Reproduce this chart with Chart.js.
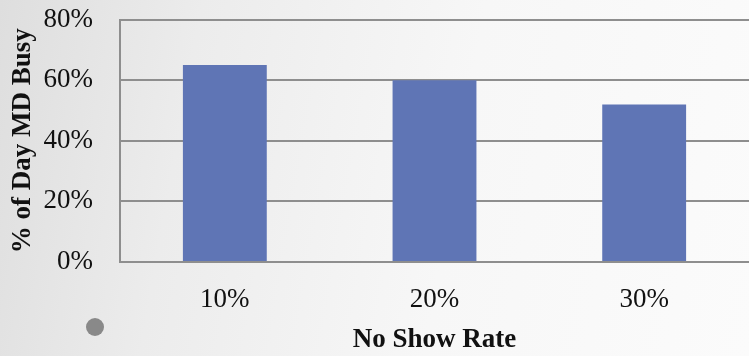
<!DOCTYPE html>
<html>
<head>
<meta charset="utf-8">
<script src="https://cdn.jsdelivr.net/npm/chart.js@4/dist/chart.umd.min.js"></script>
<style>
  html, body { margin: 0; padding: 0; }
  body {
    width: 749px; height: 356px; overflow: hidden;
    background: linear-gradient(100deg, #dedede 0%, #ececec 25%, #f7f7f7 60%, #fbfbfb 100%);
  }
  #wrap { position: relative; width: 749px; height: 356px; }
</style>
</head>
<body>
<div id="wrap"><canvas id="chart" width="749" height="356"></canvas></div>
<script>
const categories = ['10%', '20%', '30%'];
const busyShare = [65, 60, 52];
const yTicks = [0, 20, 40, 60, 80];

const FONT = '"Liberation Serif", "DejaVu Serif", serif';
const GRID = '#8e8e8e';

// slide bullet beside the axis
const bullet = {
  id: 'bullet',
  afterDraw(chart) {
    const c = chart.ctx;
    c.save();
    c.fillStyle = '#898989';
    c.beginPath();
    c.arc(95, 327, 9, 0, Math.PI * 2);
    c.fill();
    c.restore();
  }
};

new Chart(document.getElementById('chart'), {
  type: 'bar',
  data: {
    labels: categories,
    datasets: [{
      data: busyShare,
      backgroundColor: '#5f75b5',
      borderWidth: 0,
      categoryPercentage: 1,
      barPercentage: 0.4
    }]
  },
  options: {
    responsive: false,
    animation: false,
    layout: { padding: { top: 19.5, right: 0, left: 0, bottom: 0 } },
    plugins: { legend: { display: false }, tooltip: { enabled: false } },
    scales: {
      x: {
        grid: { display: false, drawTicks: false },
        border: { display: true, color: GRID, width: 2 },
        ticks: { color: '#111', padding: 22, font: { family: FONT, size: 27 } },
        title: {
          display: true, text: 'No Show Rate', color: '#111',
          font: { family: FONT, size: 27, weight: 'bold' },
          padding: { top: 4, bottom: 0 }
        },
        afterFit(s) { s.height = 94; s.paddingLeft = 0; s.paddingRight = 0; }
      },
      y: {
        min: 0, max: 80,
        afterBuildTicks(s) { s.ticks = yTicks.map(v => ({ value: v })); },
        grid: { color: GRID, lineWidth: 2, drawTicks: false },
        border: { display: true, color: GRID, width: 2 },
        ticks: {
          color: '#111', padding: 27,
          font: { family: FONT, size: 27 },
          callback: v => v + '%'
        },
        title: {
          display: true, text: '% of Day MD Busy', color: '#111',
          font: { family: FONT, size: 27, weight: 'bold' },
          padding: { top: 7, bottom: 0 }
        },
        afterFit(s) { s.width = 120; s.paddingTop = 0; s.paddingBottom = 0; }
      }
    }
  },
  plugins: [bullet]
});
</script>
</body>
</html>
